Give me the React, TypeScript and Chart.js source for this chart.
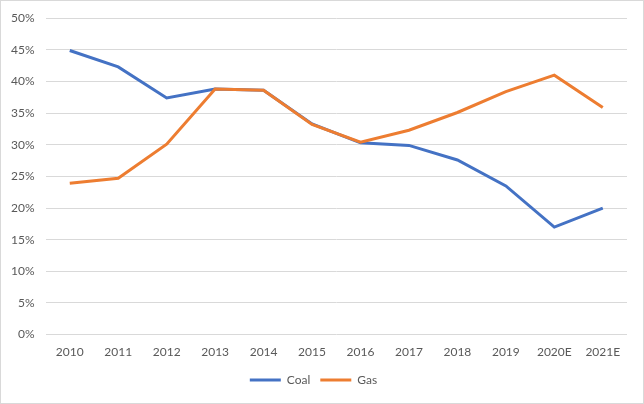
import React, { useEffect, useRef } from "react";
import { Chart, registerables } from "chart.js";

Chart.register(...registerables);

const categories = ["2010", "2011", "2012", "2013", "2014", "2015", "2016", "2017", "2018", "2019", "2020E", "2021E"];
const coal = [44.9, 42.3, 37.4, 38.8, 38.6, 33.3, 30.3, 29.9, 27.6, 23.5, 17.0, 20.0];
const gas = [23.9, 24.7, 30.1, 38.8, 38.6, 33.2, 30.4, 32.3, 35.1, 38.4, 41.0, 35.9];
const yTicks = [0, 5, 10, 15, 20, 25, 30, 35, 40, 45, 50];

const FONT = "Lato, 'Open Sans', sans-serif";

export default function App() {
  const ref = useRef<HTMLCanvasElement | null>(null);
  useEffect(() => {
    if (!ref.current) return;
    const chart = new Chart(ref.current, {
      type: "line",
      data: {
        labels: categories,
        datasets: [
          { label: "Coal", data: coal, borderColor: "#4472C4", backgroundColor: "#4472C4", borderWidth: 3, pointRadius: 0, tension: 0, order: 1 },
          { label: "Gas", data: gas, borderColor: "#ED7D31", backgroundColor: "#ED7D31", borderWidth: 3, pointRadius: 0, tension: 0, order: 0 },
        ],
      },
      options: {
        animation: false,
        responsive: false,
        devicePixelRatio: 1,
        layout: { padding: { top: 17, right: 17, left: 0, bottom: 8 } },
        plugins: {
          tooltip: { enabled: false },
          legend: {
            position: "bottom",
            labels: {
              font: { family: FONT, size: 12 },
              color: "#595959",
              boxWidth: 31,
              boxHeight: 3,
              padding: 10,
              sort: (a: any, b: any) => a.datasetIndex - b.datasetIndex,
              generateLabels: (c: any) => {
                const items = Chart.defaults.plugins.legend.labels.generateLabels(c);
                return items.map((it: any) => ({ ...it, lineWidth: 0 }));
              },
            },
          },
        },
        scales: {
          x: {
            offset: true,
            grid: { display: false },
            border: { display: false },
            ticks: { font: { family: FONT, size: 12 }, color: "#595959", padding: 2, maxRotation: 0 },
            afterFit: (s: any) => { s.height += 3; },
          },
          y: {
            min: 0,
            max: 50,
            afterBuildTicks: (s: any) => { s.ticks = yTicks.map((v) => ({ value: v })); },
            grid: { color: "#d9d9d9", lineWidth: 1, drawTicks: false },
            border: { display: false },
            ticks: {
              font: { family: FONT, size: 12 },
              color: "#595959",
              padding: 11,
              callback: (v: any) => v + "%",
            },
          },
        },
      },
    });
    return () => chart.destroy();
  }, []);
  return (
    <div style={{ position: "absolute", left: 0, top: 0, width: 644, height: 404, background: "#fff" }}>
      <canvas ref={ref} width={644} height={404} style={{ display: "block" }} />
      <div style={{ position: "absolute", left: 0, top: 0, width: 642, height: 402, border: "1px solid #d9d9d9", pointerEvents: "none" }} />
    </div>
  );
}
